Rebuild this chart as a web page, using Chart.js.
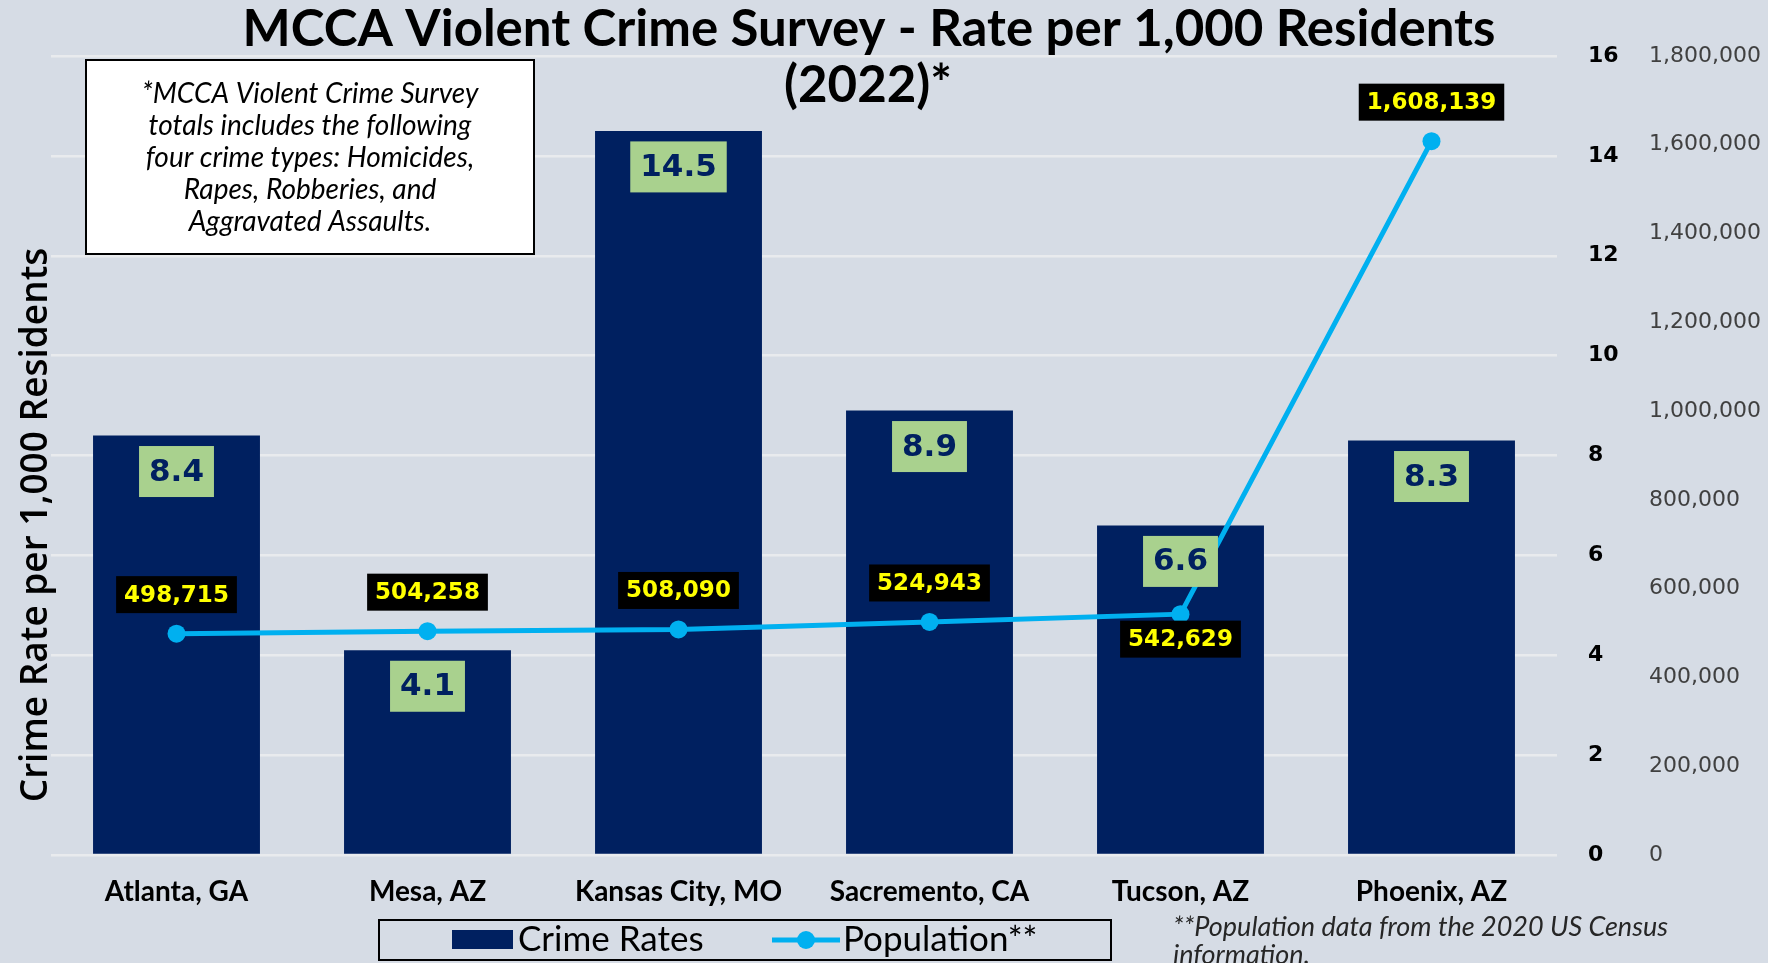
<!DOCTYPE html>
<html>
<head>
<meta charset="utf-8">
<title>MCCA Violent Crime Survey</title>
<script src="https://cdn.jsdelivr.net/npm/chart.js@4.4.1/dist/chart.umd.min.js"></script>
<style>
  html, body { margin: 0; padding: 0; background: #D6DCE5; }
  canvas { display: block; }
</style>
</head>
<body>
<canvas id="crimeChart" width="1768" height="963"></canvas>
<script>
const cities = ['Atlanta, GA', 'Mesa, AZ', 'Kansas City, MO', 'Sacremento, CA', 'Tucson, AZ', 'Phoenix, AZ'];
const crimeRates = [8.4, 4.1, 14.5, 8.9, 6.6, 8.3];
const population = [498715, 504258, 508090, 524943, 542629, 1608139];

const rateAxis = { min: 0, max: 16, step: 2 };
const popAxis = { min: 0, max: 1800000, step: 200000 };

const titleLines = ['MCCA Violent Crime Survey - Rate per 1,000 Residents', '(2022)*'];
const yTitle = 'Crime Rate per 1,000 Residents';
const noteLines = [
    '*MCCA Violent Crime Survey',
    'totals includes the following',
    'four crime types: Homicides,',
    'Rapes, Robberies, and',
    'Aggravated Assaults.'
];
const footnoteLines = ['**Population data from the 2020 US Census', 'information.'];
const legendLabels = ['Crime Rates', 'Population**'];

const NAVY = '#002060';
const CYAN = '#00B0F0';
const calibri = 'Lato, "Open Sans", sans-serif';
const verdana = '"DejaVu Sans", Verdana, sans-serif';

document.addEventListener('DOMContentLoaded', function() {
    const ctx = document.getElementById('crimeChart').getContext('2d');

    function labelBox(c, text, x, y, font, fill, color, padX, h) {
        c.font = font;
        const w = c.measureText(text).width + padX * 2;
        c.fillStyle = fill;
        c.fillRect(x - w / 2, y - h / 2, w, h);
        c.fillStyle = color;
        c.textAlign = 'center';
        c.textBaseline = 'middle';
        c.fillText(text, x, y + 1);
    }

    const background = {
        id: 'background',
        beforeDraw(chart) {
            const c = chart.ctx;
            c.save();
            c.fillStyle = '#D6DCE5';
            c.fillRect(0, 0, chart.width, chart.height);
            c.restore();
        }
    };

    const annotations = {
        id: 'annotations',
        afterDatasetsDraw(chart) {
            const c = chart.ctx;
            c.save();
            // dataset 1 = bars, dataset 0 = population line
            chart.getDatasetMeta(1).data.forEach(function(bar, i) {
                labelBox(c, crimeRates[i].toFixed(1), bar.x, bar.y + 36,
                    'bold 31px ' + verdana, '#A9D18E', NAVY, 10, 51);
            });
            chart.getDatasetMeta(0).data.forEach(function(pt, i) {
                const dy = i === 4 ? 25 : -39;
                labelBox(c, population[i].toLocaleString('en-US'), pt.x, pt.y + dy,
                    'bold 23px ' + verdana, '#000000', '#FFFF00', 8, 37);
            });
            c.restore();
        },
        afterDraw(chart) {
            const c = chart.ctx;
            c.save();

            // title
            c.fillStyle = '#000000';
            c.textAlign = 'center';
            c.textBaseline = 'alphabetic';
            c.font = 'bold 51px ' + calibri;
            c.fillText(titleLines[0], 869, 46);
            c.fillText(titleLines[1], 868, 102);

            // left axis title
            c.save();
            c.translate(36, 525);
            c.rotate(-Math.PI / 2);
            c.font = '600 37px "Open Sans", ' + verdana;
            c.textBaseline = 'middle';
            c.fillText(yTitle, 0, 0);
            c.restore();

            // note box
            c.fillStyle = '#FFFFFF';
            c.fillRect(86, 60, 448, 194);
            c.strokeStyle = '#000000';
            c.lineWidth = 2;
            c.strokeRect(86, 60, 448, 194);
            c.fillStyle = '#000000';
            c.font = 'italic 28px ' + calibri;
            c.textBaseline = 'middle';
            noteLines.forEach(function(line, i) {
                c.fillText(line, 310, 94 + i * 32);
            });

            // legend
            c.strokeRect(379, 920, 732, 40);
            c.fillStyle = NAVY;
            c.fillRect(452, 930, 61, 19);
            c.fillStyle = '#000000';
            c.textAlign = 'left';
            c.font = '35px ' + calibri;
            c.fillText(legendLabels[0], 518, 940);
            c.strokeStyle = CYAN;
            c.lineWidth = 5;
            c.beginPath();
            c.moveTo(772, 940);
            c.lineTo(840, 940);
            c.stroke();
            c.fillStyle = CYAN;
            c.beginPath();
            c.arc(806, 940, 9, 0, Math.PI * 2);
            c.fill();
            c.fillStyle = '#000000';
            c.fillText(legendLabels[1], 843, 940);

            // footnote
            c.fillStyle = '#262626';
            c.font = 'italic 27px ' + calibri;
            c.fillText(footnoteLines[0], 1173, 927);
            c.fillText(footnoteLines[1], 1173, 955);

            c.restore();
        }
    };

    new Chart(ctx, {
        data: {
            labels: cities,
            datasets: [
                {
                    type: 'line',
                    label: legendLabels[1],
                    data: population,
                    yAxisID: 'y2',
                    borderColor: CYAN,
                    backgroundColor: CYAN,
                    borderWidth: 5,
                    pointRadius: 9,
                    pointBorderWidth: 0,
                    tension: 0,
                    order: 1
                },
                {
                    type: 'bar',
                    label: legendLabels[0],
                    data: crimeRates,
                    yAxisID: 'y',
                    backgroundColor: NAVY,
                    barPercentage: 0.665,
                    categoryPercentage: 1,
                    order: 2
                }
            ]
        },
        options: {
            responsive: false,
            animation: false,
            events: [],
            layout: {
                padding: { left: 51, top: 56, right: 0, bottom: 0 }
            },
            plugins: {
                legend: { display: false },
                title: { display: false },
                tooltip: { enabled: false }
            },
            scales: {
                x: {
                    grid: { display: false },
                    border: { display: false },
                    ticks: {
                        color: '#000000',
                        padding: 12,
                        font: { family: calibri, size: 28, weight: 'bold' }
                    },
                    afterFit: function(axis) { axis.height = 108; }
                },
                y: {
                    position: 'right',
                    min: rateAxis.min,
                    max: rateAxis.max,
                    grid: { color: '#E9EBEE', lineWidth: 2.5, drawTicks: false },
                    border: { display: false },
                    ticks: {
                        stepSize: rateAxis.step,
                        color: '#000000',
                        padding: 31,
                        font: { family: verdana, size: 22, weight: 'bold' }
                    },
                    afterFit: function(axis) { axis.width = 63; }
                },
                y2: {
                    position: 'right',
                    min: popAxis.min,
                    max: popAxis.max,
                    grid: { display: false, drawTicks: false },
                    border: { display: false },
                    ticks: {
                        stepSize: popAxis.step,
                        color: '#404040',
                        padding: 29,
                        font: { family: verdana, size: 22 },
                        callback: function(value) {
                            return value.toLocaleString('en-US');
                        }
                    },
                    afterFit: function(axis) { axis.width = 148; }
                }
            }
        },
        plugins: [background, annotations]
    });
});
</script>
</body>
</html>
